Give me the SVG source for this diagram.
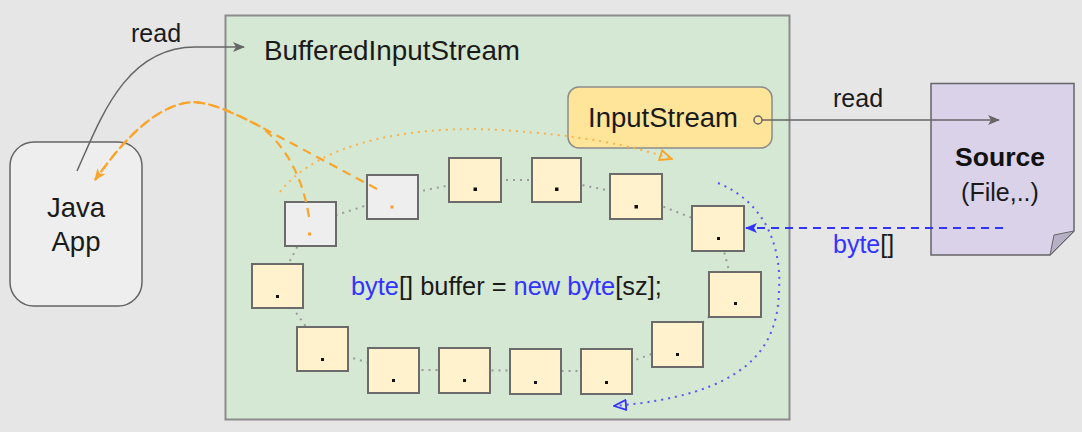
<svg xmlns="http://www.w3.org/2000/svg" width="1082" height="432" viewBox="0 0 1082 432">
<style>
text{font-family:"Liberation Sans",Arial,sans-serif;fill:#1a1a1a}
.t25{font-size:25px}
.t27{font-size:27.5px}
.blue{fill:#3333ff}
.cell{fill:#fff2cc;stroke:#6b6b6b;stroke-width:2}
.gcell{fill:#eeeeee;stroke:#6b6b6b;stroke-width:2}
.dot{fill:#111}
.odot{fill:#f5a030}
.ring{fill:none;stroke:#9a9a9a;stroke-width:2;stroke-dasharray:2 5}
.odash{fill:none;stroke:#f9a52b;stroke-width:2.2;stroke-dasharray:9 6}
.odot-line{fill:none;stroke:#f9b24a;stroke-width:2;stroke-dasharray:2 5}
.bdot-line{fill:none;stroke:#5555ff;stroke-width:2;stroke-dasharray:2 5}
.gline{fill:none;stroke:#666;stroke-width:1.5}
</style>
<defs>
<marker id="agray" viewBox="0 0 12 10" refX="11" refY="5" markerWidth="12" markerHeight="10" markerUnits="userSpaceOnUse" orient="auto">
<path d="M0,0 L12,5 L0,10 L3,5 Z" fill="#666"/>
</marker>
<marker id="aorange" viewBox="0 0 12 10" refX="11" refY="5" markerWidth="12" markerHeight="10" markerUnits="userSpaceOnUse" orient="auto">
<path d="M0,0 L12,5 L0,10 L3,5 Z" fill="#f9a52b"/>
</marker>
<marker id="ablue" viewBox="0 0 12 10" refX="11" refY="5" markerWidth="12" markerHeight="10" markerUnits="userSpaceOnUse" orient="auto">
<path d="M0,0 L12,5 L0,10 L3,5 Z" fill="#3333ff"/>
</marker>
<marker id="oorange" viewBox="0 0 14 12" refX="13" refY="6" markerWidth="14" markerHeight="12" markerUnits="userSpaceOnUse" orient="auto">
<path d="M1,1 L13,6 L1,11 Z" fill="none" stroke="#f9a52b" stroke-width="1.8"/>
</marker>
<marker id="oblue" viewBox="0 0 14 12" refX="13" refY="6" markerWidth="14" markerHeight="12" markerUnits="userSpaceOnUse" orient="auto">
<path d="M1,1 L13,6 L1,11 Z" fill="none" stroke="#3333ff" stroke-width="1.8"/>
</marker>
</defs>
<rect x="0" y="0" width="1082" height="432" fill="#e6e6e6"/>

<g id="buffered-input-stream">
<rect x="225.5" y="15.5" width="564" height="404" fill="#d5e8d4" stroke="#8c8c8c" stroke-width="2"/>
<text x="264" y="60" style="font-size:27.8px">BufferedInputStream</text>
</g>

<g id="java-app">
<rect x="10" y="142" width="132" height="164" rx="24" fill="#eeeeee" stroke="#666" stroke-width="1.5"/>
<text class="t27" x="76" y="217" text-anchor="middle">Java</text>
<text class="t27" x="76" y="251" text-anchor="middle">App</text>
</g>

<g id="source">
<path d="M931,83.5 H1074 V231 L1050,255 H931 Z" fill="#d9d2e9" stroke="#666" stroke-width="1.5"/>
<path d="M1074,231 L1054,235 L1050,255 Z" fill="#b6afc6" stroke="#666" stroke-width="1"/>
<text x="1000" y="166" text-anchor="middle" style="font-size:26.5px;font-weight:bold;fill:#111">Source</text>
<text class="t25" x="1000" y="201" text-anchor="middle">(File,..)</text>
</g>

<g id="input-stream">
<rect x="568" y="87" width="204" height="61" rx="11" fill="#ffe599" stroke="#8c8c8c" stroke-width="1.5"/>
<text class="t27" x="663" y="127" text-anchor="middle">InputStream</text>
</g>

<g id="connectors">
<path class="ring" d="M309,224 L392,197 L475,180 L557,180 L636,196 L718,228 L735,294 L678,344 L606,371 L535,371 L464,370 L393,370 L322,349 L277,286 Z"/>
<path class="gline" d="M77,171 C100,120 125,47 195,47 L244,47" marker-end="url(#agray)"/>
<path class="gline" d="M762,120 L999,120" marker-end="url(#agray)"/>
<circle cx="758" cy="120" r="4" fill="#ffe599" stroke="#666" stroke-width="1.5"/>
<path d="M1003,228 L746,228" fill="none" stroke="#3333ff" stroke-width="1.8" stroke-dasharray="8 6" marker-end="url(#ablue)"/>
<path class="odot-line" d="M280,192 C320,140 420,125 500,130 C580,135 630,145 672,159" marker-end="url(#oorange)"/>
<path class="bdot-line" d="M718,183 C760,200 782,240 779,290 C778,350 745,395 614,406" marker-end="url(#oblue)"/>
</g>

<g id="cells">
<g id="cell-1"><rect class="gcell" x="285" y="202" width="51" height="44"/><rect class="odot" x="308" y="232.5" width="3" height="3"/></g>
<g id="cell-2"><rect class="gcell" x="367" y="175" width="51" height="44"/><rect class="odot" x="390.5" y="205.5" width="3" height="3"/></g>
<g id="cell-3"><rect class="cell" x="449" y="158" width="52" height="44"/><rect class="dot" x="473.5" y="187.5" width="3.5" height="3.5"/></g>
<g id="cell-4"><rect class="cell" x="532" y="158" width="49" height="44"/><rect class="dot" x="555" y="187.5" width="3.5" height="3.5"/></g>
<g id="cell-5"><rect class="cell" x="610" y="174" width="52" height="45"/><rect class="dot" x="634.5" y="205" width="3.5" height="3.5"/></g>
<g id="cell-6"><rect class="cell" x="692" y="206" width="52" height="45"/><rect class="dot" x="717" y="237" width="3" height="3"/></g>
<g id="cell-7"><rect class="cell" x="709" y="272" width="52" height="45"/><rect class="dot" x="734" y="302" width="3" height="3"/></g>
<g id="cell-8"><rect class="cell" x="652" y="322" width="51" height="45"/><rect class="dot" x="676" y="353" width="3" height="3"/></g>
<g id="cell-9"><rect class="cell" x="581" y="349" width="51" height="45"/><rect class="dot" x="605" y="381" width="3" height="3"/></g>
<g id="cell-10"><rect class="cell" x="510" y="349" width="51" height="45"/><rect class="dot" x="534" y="381" width="3" height="3"/></g>
<g id="cell-11"><rect class="cell" x="439" y="348" width="51" height="45"/><rect class="dot" x="463" y="379" width="3" height="3"/></g>
<g id="cell-12"><rect class="cell" x="368" y="348" width="51" height="45"/><rect class="dot" x="392" y="379" width="3" height="3"/></g>
<g id="cell-13"><rect class="cell" x="297" y="327" width="51" height="44"/><rect class="dot" x="321" y="358" width="3" height="3"/></g>
<g id="cell-14"><rect class="cell" x="252" y="264" width="51" height="44"/><rect class="dot" x="276" y="295" width="3" height="3"/></g>
</g>

<g id="orange-arrows">
<path class="odash" d="M377,189 L263,128 C220,105 200,100 185,103 C150,110 120,145 95,180" marker-end="url(#aorange)"/>
<path class="odash" d="M309,217 Q300,160 263,128 C220,105 200,100 185,103 C150,110 120,145 95,180"/>
</g>

<g id="labels">
<text class="t25" x="131" y="42">read</text>
<text class="t25" x="833" y="107">read</text>
<text class="t25" x="833" y="253"><tspan class="blue">byte</tspan><tspan>[]</tspan></text>
<text x="351" y="295" style="font-size:25.4px"><tspan class="blue">byte</tspan><tspan>[] buffer = </tspan><tspan class="blue">new</tspan><tspan> </tspan><tspan class="blue">byte</tspan><tspan>[sz];</tspan></text>
</g>
</svg>
